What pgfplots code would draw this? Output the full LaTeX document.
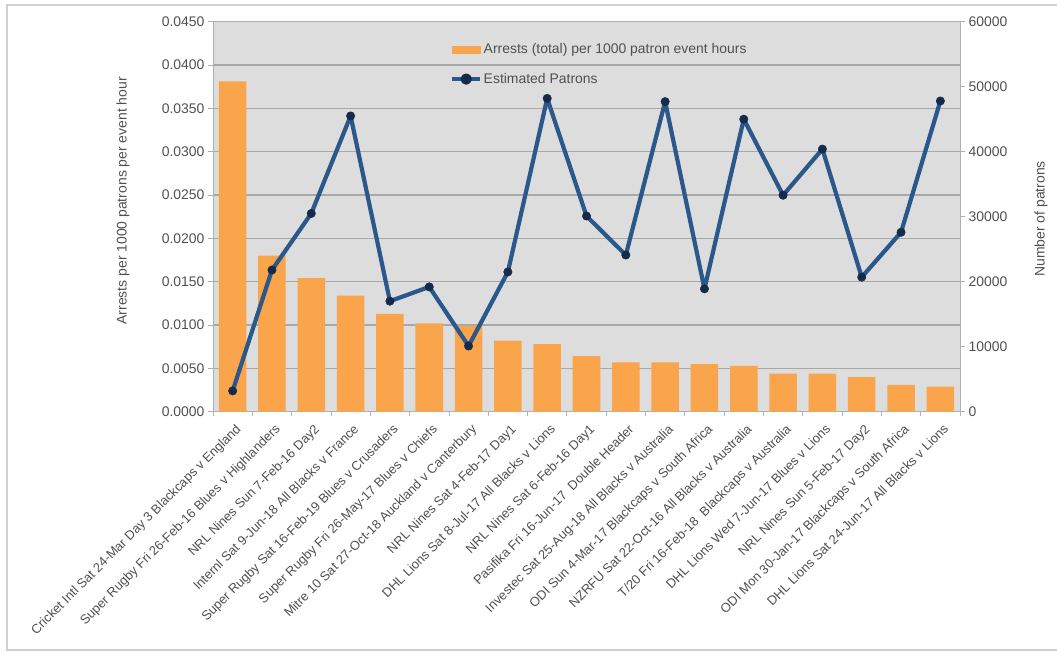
\documentclass[border=0pt]{standalone}
\usepackage{fontspec}
\setmainfont{Liberation Sans}
\usepackage{pgfplots}
\pgfplotsset{compat=1.18}

\definecolor{barorange}{RGB}{250,165,76}
\definecolor{patronline}{RGB}{42,88,138}
\definecolor{patronmark}{RGB}{22,42,74}
\definecolor{plotbg}{RGB}{221,221,221}
\definecolor{gridgray}{RGB}{168,168,168}
\definecolor{axisgray}{RGB}{175,175,175}
\definecolor{labelgray}{RGB}{80,80,80}
\definecolor{catticks}{RGB}{160,185,210}
\definecolor{framegray}{RGB}{208,208,208}

\newcommand{\chartfont}{\fontsize{14}{16}\selectfont}
\newcommand{\catfont}{\fontsize{13}{15}\selectfont}

\begin{document}
\begin{tikzpicture}[x=1bp,y=1bp]
\useasboundingbox (0,0) rectangle (1057,653);
\draw[framegray, line width=1.5bp] (7,3) rectangle (1075,648);

% arrests per 1000 patron event hours (left axis)
\begin{axis}[
  at={(213bp,241.3bp)}, anchor=south west,
  width=747bp, height=390bp, scale only axis,
  xmin=-0.5, xmax=18.5, ymin=0, ymax=0.045,
  ytick distance=0.005,
  scaled y ticks=false,
  axis background/.style={fill=plotbg},
  axis line style={axisgray, line width=0.8bp},
  ymajorgrids, major grid style={gridgray, line width=1.2bp},
  ytick pos=left, xtick pos=bottom,
  tick align=outside,
  major tick length=5bp,
  y tick style={axisgray, line width=0.8bp},
  xtick={0,...,18},
  major x tick style={draw=none},
  minor xtick={-0.5,0.5,...,18.5},
  minor x tick style={catticks, line width=0.8bp},
  minor tick length=4bp,
  /pgf/number format/fixed,
  /pgf/number format/fixed zerofill,
  /pgf/number format/precision=4,
  /pgf/number format/assume math mode=true,
  yticklabel style={font=\chartfont, text=labelgray},
  xticklabels={
    Cricket Intl Sat 24-Mar Day 3 Blackcaps v England,
    Super Rugby Fri 26-Feb-16 Blues v Highlanders,
    NRL Nines Sun 7-Feb-16 Day2,
    Internl Sat 9-Jun-18 All Blacks v France,
    Super Rugby Sat 16-Feb-19 Blues v Crusaders,
    Super Rugby Fri 26-May-17 Blues v Chiefs,
    Mitre 10 Sat 27-Oct-18 Auckland v Canterbury,
    NRL Nines Sat 4-Feb-17 Day1,
    DHL Lions Sat 8-Jul-17 All Blacks v Lions,
    NRL Nines Sat 6-Feb-16 Day1,
    Pasifika Fri 16-Jun-17 \ Double Header,
    Investec Sat 25-Aug-18 All Blacks v Australia,
    ODI Sun 4-Mar-17 Blackcaps v South Africa,
    NZRFU Sat 22-Oct-16 All Blacks v Australia,
    T/20 Fri 16-Feb-18 \ Blackcaps v Australia,
    DHL Lions Wed 7-Jun-17 Blues v Lions,
    NRL Nines Sun 5-Feb-17 Day2,
    ODI Mon 30-Jan-17 Blackcaps v South Africa,
    DHL Lions Sat 24-Jun-17 All Blacks v Lions},
  xticklabel style={rotate=45, anchor=north east, font=\catfont, text=labelgray, inner sep=0pt, xshift=-3bp, yshift=-6bp},
  ylabel={Arrests per 1000 patrons per event hour},
  ylabel style={at={(axis description cs:-0.1205,0.5407)}, anchor=center, font=\chartfont, text=labelgray},
]
\addplot[ybar, bar width=0.7, fill=barorange, draw=none] coordinates {
  (0,0.0381) (1,0.0180) (2,0.0154) (3,0.0134) (4,0.0113) (5,0.0102)
  (6,0.0099) (7,0.0082) (8,0.0078) (9,0.0064) (10,0.0057) (11,0.0057)
  (12,0.0055) (13,0.0053) (14,0.0044) (15,0.0044) (16,0.0040) (17,0.0031)
  (18,0.0029)
};
\end{axis}

% estimated patrons (right axis)
\begin{axis}[
  at={(213bp,241.3bp)}, anchor=south west,
  width=747bp, height=390bp, scale only axis,
  xmin=-0.5, xmax=18.5, ymin=0, ymax=60000,
  ytick distance=10000,
  scaled y ticks=false,
  axis x line=none,
  axis y line*=right,
  axis line style={axisgray, line width=0.8bp},
  tick align=outside,
  major tick length=5bp,
  y tick style={axisgray, line width=0.8bp},
  /pgf/number format/1000 sep={},
  /pgf/number format/assume math mode=true,
  yticklabel style={font=\chartfont, text=labelgray},
  ylabel={Number of patrons},
  ylabel style={at={(axis description cs:1.1084,0.4945)}, anchor=center, font=\chartfont, text=labelgray},
  legend style={at={(axis description cs:0.3173,0.948)}, anchor=north west,
    draw=none, fill=none, inner sep=0pt, row sep=15bp,
    font=\chartfont, text=labelgray,
    nodes={inner sep=1.5bp}},
  legend cell align=left,
]
\addlegendimage{legend image code/.code={\fill[barorange] (0bp,-3.5bp) rectangle (28bp,3.5bp);}}
\addlegendentry{Arrests (total) per 1000 patron event hours}
\addplot[patronline, line width=4.2bp, line join=round, mark=*, mark size=4.2bp,
  mark options={fill=patronmark, draw=patronmark, line width=0.5bp},
  legend image code/.code={\draw[patronline, line width=4bp] (0bp,0bp) -- (28bp,0bp); \fill[patronmark] (14bp,0bp) circle (3.5bp);}]
  coordinates {
  (0,3200) (1,21800) (2,30500) (3,45500) (4,17000) (5,19200)
  (6,10100) (7,21500) (8,48200) (9,30100) (10,24100) (11,47700)
  (12,18900) (13,45000) (14,33300) (15,40400) (16,20700) (17,27600)
  (18,47800)
};
\addlegendentry{Estimated Patrons}
\end{axis}
\end{tikzpicture}
\end{document}
